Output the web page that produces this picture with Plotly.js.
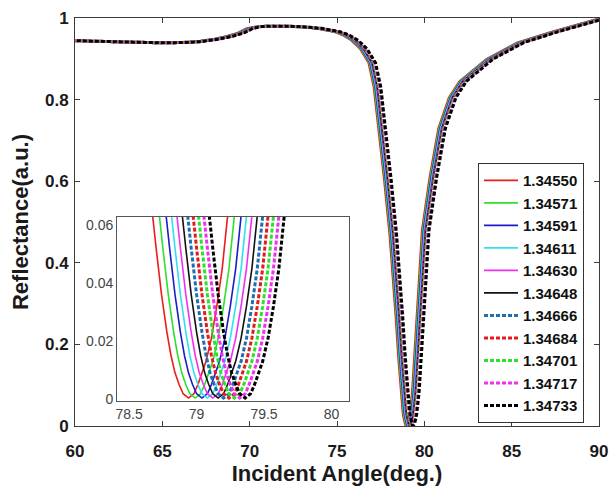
<!DOCTYPE html>
<html><head><meta charset="utf-8">
<script src="https://cdn.plot.ly/plotly-3.0.1.min.js"></script>
<style>html,body{margin:0;padding:0;background:#fff}</style>
</head><body>
<div id="chart" style="width:612px;height:486px"></div>
<script>
// ---- data ----
const seriesNames = ["1.34550","1.34571","1.34591","1.34611","1.34630","1.34648","1.34666","1.34684","1.34701","1.34717","1.34733"];
// resonance (minimum) angle of each series, deg.
const dipAngle = [78.94, 78.99, 79.04, 79.08, 79.12, 79.16, 79.20, 79.24, 79.28, 79.32, 79.36];
// reflectance profile, angle measured from the resonance minimum (deg.)
const offsetFromDip = [-19.6,-19.15,-18.15,-17.15,-16.15,-15.15,-14.15,-13.15,-12.15,-11.15,-10.35,-9.65,-9.15,-8.65,-8.15,-7.15,-6.15,-5.15,-4.15,-3.65,-3.15,-2.65,-2.15,-1.85,-1.55,-1.25,-0.95,-0.75,-0.6,-0.45,-0.35,-0.27,-0.24,-0.2,-0.16,-0.13,-0.1,-0.07,-0.04,0,0.04,0.07,0.1,0.13,0.17,0.21,0.25,0.29,0.33,0.36,0.46,0.6,0.75,0.91,1.35,1.85,2.45,3.05,4.6,6.35,8.35,10.85,11.1];
const reflectance   = [0.945,0.944,0.943,0.942,0.941,0.940,0.939,0.940,0.942,0.948,0.955,0.964,0.975,0.979,0.980,0.980,0.978,0.974,0.966,0.958,0.945,0.925,0.89,0.83,0.72,0.60,0.47,0.36,0.27,0.17,0.11,0.065,0.052,0.036,0.023,0.015,0.009,0.005,0.0018,0.0003,0.0018,0.005,0.009,0.013,0.021,0.032,0.045,0.060,0.078,0.095,0.165,0.26,0.37,0.48,0.61,0.73,0.805,0.845,0.90,0.94,0.967,0.997,1.0];
const xTicks = [60,65,70,75,80,85,90];
const yTicks = [0,0.2,0.4,0.6,0.8,1];
const insetXTicks = [78.5,79,79.5,80];
const insetYTicks = [0,0.02,0.04,0.06];

// ---- styles ----
const lineColors = ["#ee1c1c","#2ee02e","#1c1cc8","#30e0f0","#f030f0","#111111","#1f6fb0","#e01c1c","#2ee02e","#f030f0","#000000"];
const dotted = [false,false,false,false,false,false,true,true,true,true,true];
const FONT = "Liberation Sans, Arial, Helvetica, sans-serif";

function lineStyle(i) {
  return dotted[i] ? {color: lineColors[i], width: 3, dash: "4px,2px"} : {color: lineColors[i], width: 1.6};
}
const traces = [];
seriesNames.forEach((name, i) => {
  const xs = offsetFromDip.map(o => dipAngle[i] + o);
  traces.push({x: xs, y: reflectance, type: "scatter", mode: "lines", name: name, legendgroup: "g" + i,
               line: lineStyle(i), xaxis: "x", yaxis: "y", hoverinfo: "skip"});
});
seriesNames.forEach((name, i) => {
  const xs = offsetFromDip.map(o => dipAngle[i] + o);
  traces.push({x: xs, y: reflectance, type: "scatter", mode: "lines", name: name, legendgroup: "g" + i,
               line: lineStyle(i), xaxis: "x2", yaxis: "y2", showlegend: false, hoverinfo: "skip"});
});

const axCol = "#3c3c3c";
const layout = {
  width: 612, height: 486,
  margin: {l: 75, r: 13, t: 18, b: 60},
  paper_bgcolor: "#fff", plot_bgcolor: "#fff",
  showlegend: true,
  font: {family: FONT, color: "#1a1a1a"},
  xaxis: {
    range: [60, 90], tickvals: xTicks, ticks: "inside", ticklen: 5, tickcolor: axCol,
    showline: true, mirror: "ticks", linecolor: axCol, linewidth: 1, showgrid: false, zeroline: false,
    tickfont: {family: FONT, size: 17, color: "#1a1a1a", weight: "bold"}, ticklabelstandoff: 10,
    title: {text: "Incident Angle(deg.)", font: {family: FONT, size: 22, color: "#1a1a1a", weight: "bold"}, standoff: 11},
    automargin: false
  },
  yaxis: {
    range: [0, 1], tickvals: yTicks, ticks: "inside", ticklen: 5, tickcolor: axCol,
    showline: true, mirror: "ticks", linecolor: axCol, linewidth: 1, showgrid: false, zeroline: false,
    tickfont: {family: FONT, size: 17, color: "#1a1a1a", weight: "bold"}, ticklabelstandoff: 2,
    title: {text: "Reflectance(a.u.)", font: {family: FONT, size: 22, color: "#1a1a1a", weight: "bold"}, standoff: 10},
    automargin: false
  },
  xaxis2: {
    domain: [0.0802, 0.5229], anchor: "y2", range: [78.41, 80.13], tickvals: insetXTicks, ticktext: ["78.5","79","79.5","80"],
    ticks: "", showline: true, mirror: true, linecolor: "#555", linewidth: 1, showgrid: false, zeroline: false,
    tickfont: {family: FONT, size: 14, color: "#444"}, automargin: false
  },
  yaxis2: {
    domain: [0.0613, 0.5123], anchor: "x2", range: [-0.0007, 0.0628], tickvals: insetYTicks, ticktext: ["0","0.02","0.04","0.06"],
    ticks: "", showline: true, mirror: true, linecolor: "#555", linewidth: 1, showgrid: false, zeroline: false,
    tickfont: {family: FONT, size: 14, color: "#444"}, automargin: false
  },
  legend: {
    x: 0.9714, xanchor: "right", y: 0.007, yanchor: "bottom",
    bgcolor: "#fff", bordercolor: "#333", borderwidth: 1,
    font: {family: FONT, size: 15, color: "#111", weight: "bold"},
    itemwidth: 34, tracegroupgap: 1.5, traceorder: "normal"
  }
};

Plotly.newPlot("chart", traces, layout, {staticPlot: true, displayModeBar: false});
</script>
</body></html>
